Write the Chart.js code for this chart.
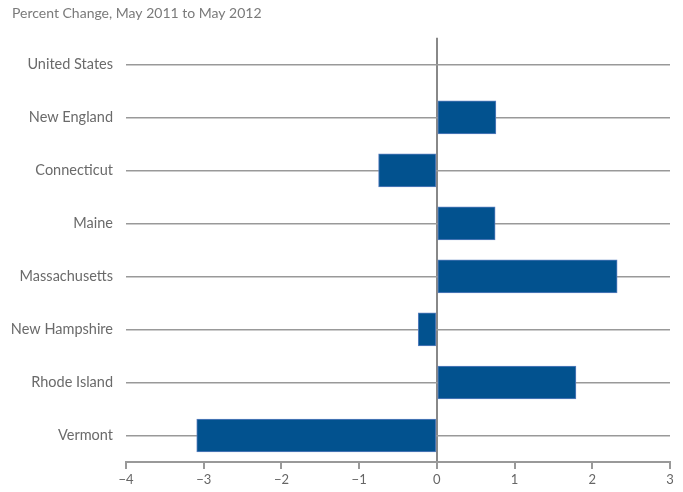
<!DOCTYPE html>
<html>
<head>
<meta charset="utf-8">
<script src="https://cdn.jsdelivr.net/npm/chart.js@4"></script>
<style>
html,body{margin:0;padding:0;background:#fff;}
#wrap{width:683px;height:492px;position:relative;}
</style>
</head>
<body>
<div id="wrap"><canvas id="c" width="683" height="492"></canvas></div>
<script>
const titleText = 'Percent Change, May 2011 to May 2012';
const categories = ['United States','New England','Connecticut','Maine','Massachusetts','New Hampshire','Rhode Island','Vermont'];
const values = [0.0, 0.76, -0.75, 0.75, 2.32, -0.24, 1.79, -3.09];
const xMin = -4, xMax = 3;

new Chart(document.getElementById('c'), {
  type: 'bar',
  data: {
    labels: categories,
    datasets: [{
      data: values,
      backgroundColor: '#02528f',
      borderColor: '#5a7fbf',
      borderWidth: 1,
      borderSkipped: false,
      barThickness: 33
    }]
  },
  options: {
    indexAxis: 'y',
    responsive: false,
    animation: false,
    layout: { padding: { left: 12, right: 13, top: 0, bottom: 0 } },
    plugins: {
      legend: { display: false },
      tooltip: { enabled: false },
      title: {
        display: true,
        text: titleText,
        align: 'start',
        color: '#7a7a7a',
        font: { family: 'Lato', size: 14, weight: 'normal' },
        padding: { top: 5, bottom: 16 }
      }
    },
    scales: {
      x: {
        type: 'linear',
        min: xMin, max: xMax,
        afterFit: s => { s.height = 30; },
        ticks: {
          stepSize: 1,
          color: '#666',
          padding: 3,
          font: { family: 'Lato', size: 13 },
          callback: v => v < 0 ? '\u2212' + Math.abs(v) : String(v)
        },
        border: { display: true, color: '#999', width: 2 },
        grid: {
          drawOnChartArea: true,
          color: ctx => (ctx.tick && ctx.tick.value === 0) ? '#888' : 'rgba(0,0,0,0)',
          lineWidth: 2,
          tickColor: '#999',
          tickLength: 7,
          tickWidth: 2
        }
      },
      y: {
        type: 'category',
        offset: true,
        afterFit: s => { s.width = 114; },
        ticks: {
          color: '#6a6a6a',
          padding: 13,
          font: { family: 'Lato', size: 14.5 }
        },
        border: { display: false },
        grid: {
          offset: false,
          drawTicks: false,
          color: '#999',
          lineWidth: 1.5
        }
      }
    }
  }
});
</script>
</body>
</html>
